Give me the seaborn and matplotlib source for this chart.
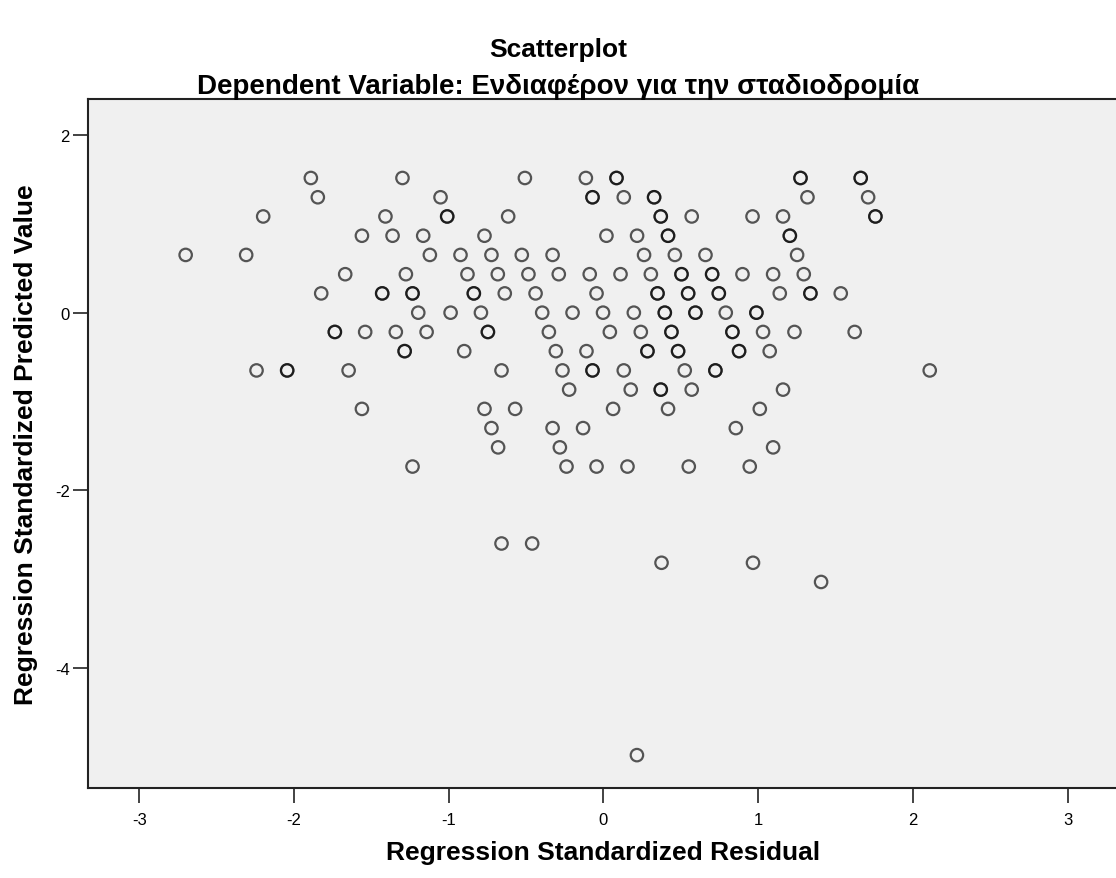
import matplotlib
matplotlib.use("Agg")
import matplotlib.pyplot as plt
import seaborn as sns
import pandas as pd

# --- Data (overlapping cases listed twice) ---
residual = [
    -1.891, -1.299, -0.508, -0.114, 0.084, 0.084, 1.273, 1.273, 1.662, 1.662,
    -1.846, -1.053, -0.071, -0.071, 0.131, 0.327, 0.327, 1.318, 1.710,
    -2.199, -1.409, -1.010, -1.010, -0.616, 0.370, 0.370, 0.570, 0.963, 1.160, 1.757, 1.757,
    -1.561, -1.363, -1.165, -0.769, 0.019, 0.217, 0.417, 0.417, 1.204, 1.204,
    -2.700, -2.309, -1.122, -0.924, -0.724, -0.528, -0.329, 0.262, 0.461, 0.659, 1.251,
    -1.669, -1.277, -0.879, -0.683, -0.485, -0.289, -0.089, 0.110, 0.306, 0.504, 0.504,
    0.702, 0.702, 0.898, 1.096, 1.294,
    -1.824, -1.430, -1.430, -1.234, -1.234, -0.838, -0.838, -0.638, -0.439, -0.045,
    0.349, 0.349, 0.547, 0.547, 0.745, 0.745, 1.139, 1.337, 1.337, 1.533,
    -1.197, -0.988, -0.792, -0.396, -0.200, -0.003, 0.196, 0.396, 0.396, 0.594, 0.594,
    0.790, 0.988, 0.988,
    -1.736, -1.736, -1.540, -1.342, -1.143, -0.747, -0.747, -0.353, 0.041, 0.241,
    0.439, 0.439, 0.833, 0.833, 1.031, 1.234, 1.623,
    -1.285, -1.285, -0.900, -0.308, -0.110, 0.284, 0.284, 0.482, 0.482, 0.876, 0.876, 1.074,
    -2.242, -2.044, -2.044, -1.647, -0.659, -0.265, -0.071, -0.071, 0.131, 0.525,
    0.723, 0.723, 2.108,
    -0.222, 0.176, 0.370, 0.370, 0.570, 1.160,
    -1.561, -0.769, -0.571, 0.062, 0.417, 1.010,
    -0.724, -0.329, -0.132, 0.855,
    -0.681, -0.282, 1.096,
    -1.234, -0.239, -0.045, 0.155, 0.551, 0.945,
    -0.659, -0.461,
    0.375, 0.966,
    1.406,
    0.216,
]
predicted = [
    1.516, 1.516, 1.516, 1.516, 1.516, 1.516, 1.516, 1.516, 1.516, 1.516,
    1.299, 1.299, 1.299, 1.299, 1.299, 1.299, 1.299, 1.299, 1.299,
    1.083, 1.083, 1.083, 1.083, 1.083, 1.083, 1.083, 1.083, 1.083, 1.083, 1.083, 1.083,
    0.866, 0.866, 0.866, 0.866, 0.866, 0.866, 0.866, 0.866, 0.866, 0.866,
    0.650, 0.650, 0.650, 0.650, 0.650, 0.650, 0.650, 0.650, 0.650, 0.650, 0.650,
    0.433, 0.433, 0.433, 0.433, 0.433, 0.433, 0.433, 0.433, 0.433, 0.433, 0.433,
    0.433, 0.433, 0.433, 0.433, 0.433,
    0.217, 0.217, 0.217, 0.217, 0.217, 0.217, 0.217, 0.217, 0.217, 0.217,
    0.217, 0.217, 0.217, 0.217, 0.217, 0.217, 0.217, 0.217, 0.217, 0.217,
    0.0, 0.0, 0.0, 0.0, 0.0, 0.0, 0.0, 0.0, 0.0, 0.0, 0.0,
    0.0, 0.0, 0.0,
    -0.217, -0.217, -0.217, -0.217, -0.217, -0.217, -0.217, -0.217, -0.217, -0.217,
    -0.217, -0.217, -0.217, -0.217, -0.217, -0.217, -0.217,
    -0.433, -0.433, -0.433, -0.433, -0.433, -0.433, -0.433, -0.433, -0.433, -0.433, -0.433, -0.433,
    -0.650, -0.650, -0.650, -0.650, -0.650, -0.650, -0.650, -0.650, -0.650, -0.650,
    -0.650, -0.650, -0.650,
    -0.866, -0.866, -0.866, -0.866, -0.866, -0.866,
    -1.083, -1.083, -1.083, -1.083, -1.083, -1.083,
    -1.299, -1.299, -1.299, -1.299,
    -1.516, -1.516, -1.516,
    -1.732, -1.732, -1.732, -1.732, -1.732, -1.732,
    -2.598, -2.598,
    -2.815, -2.815,
    -3.031,
    -4.980,
]

x_ticks = [-3, -2, -1, 0, 1, 2, 3]
y_ticks = [-4, -2, 0, 2]

title = "Scatterplot"
subtitle = "Dependent Variable: Ενδιαφέρον για την σταδιοδρομία"
x_label = "Regression Standardized Residual"
y_label = "Regression Standardized Predicted Value"

df = pd.DataFrame({"resid": residual, "pred": predicted})

sns.set_style("white")
plt.rcParams["font.family"] = ["Liberation Sans", "DejaVu Sans"]
plt.rcParams["axes.unicode_minus"] = False
plt.rcParams["text.color"] = "black"
plt.rcParams["axes.labelcolor"] = "black"
plt.rcParams["xtick.color"] = "black"
plt.rcParams["ytick.color"] = "black"

fig = plt.figure(figsize=(11.16, 8.79), dpi=100)
ax = fig.add_axes([88 / 1116, 1 - 789 / 879, (1119 - 88) / 1116, (789 - 100) / 879])
ax.set_facecolor("#f0f0f0")

sns.scatterplot(data=df, x="resid", y="pred", ax=ax, s=80, marker="o",
                facecolor="none", edgecolor="black", linewidth=1.6, alpha=0.65)

ax.set_xlim(-3.331, 3.331)
ax.set_ylim(-5.35, 2.405)
ax.set_xticks(x_ticks)
ax.set_xticklabels([str(t) for t in x_ticks])
ax.set_yticks(y_ticks)
ax.set_yticklabels([str(t) for t in y_ticks])
ax.tick_params(axis="both", direction="out", length=11, width=1.2, color="#222222",
               labelsize=12, left=True, bottom=True)
ax.tick_params(axis="x", pad=6)
ax.tick_params(axis="y", pad=2)

for side in ["left", "bottom", "top"]:
    ax.spines[side].set_color("#222222")
    ax.spines[side].set_linewidth(1.5)
ax.spines["right"].set_visible(False)

ax.set_xlabel(x_label, fontsize=19, fontweight="bold", labelpad=10)
ax.set_ylabel(y_label, fontsize=19, fontweight="bold", labelpad=12)

fig.text(0.5, 1 - 50 / 879, title, ha="center", va="center", fontsize=19, fontweight="bold")
fig.text(0.5, 1 - 87 / 879, subtitle, ha="center", va="center", fontsize=20, fontweight="bold")

fig.savefig("out.png", dpi=100)
